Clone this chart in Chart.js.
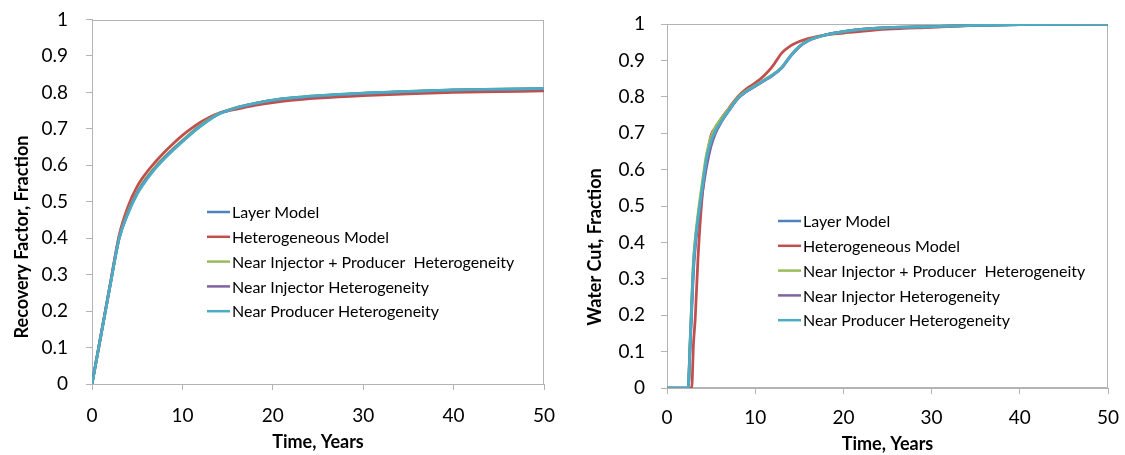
<!DOCTYPE html>
<html>
<head>
<meta charset="utf-8">
<script src="https://cdn.jsdelivr.net/npm/chart.js@4.4.1/dist/chart.umd.min.js"></script>
<style>
  html, body { margin: 0; padding: 0; background: #fff; }
  body { width: 1125px; height: 455px; position: relative; overflow: hidden; }
  .box { position: absolute; top: 0; width: 560px; height: 455px; }
</style>
</head>
<body>
<div class="box" style="left:0"><canvas id="rfChart" width="560" height="455"></canvas></div>
<div class="box" style="left:565px"><canvas id="wcChart" width="560" height="455"></canvas></div>
<script>
// Series names and colours
const seriesNames = [
  "Layer Model",
  "Heterogeneous Model",
  "Near Injector + Producer  Heterogeneity",
  "Near Injector Heterogeneity",
  "Near Producer Heterogeneity"
];
const seriesColors = ["#4F81BD", "#C0504D", "#9BBB59", "#8064A2", "#4BACC6"];

// Recovery factor (left chart)
const rfTimes = [0, 1, 2, 3, 4, 5, 6, 7, 8, 9, 10, 11, 12, 13, 14, 15, 16, 18, 20, 22, 25, 30, 35, 40, 45, 50];
const rfLayer = [0, 0.135, 0.27, 0.40, 0.472, 0.525, 0.563, 0.594, 0.621, 0.645, 0.667, 0.689, 0.709, 0.726, 0.741, 0.750, 0.758, 0.769, 0.778, 0.784, 0.790, 0.797, 0.802, 0.806, 0.808, 0.810];
const rfHetero = [0, 0.136, 0.272, 0.408, 0.488, 0.542, 0.579, 0.609, 0.636, 0.660, 0.682, 0.701, 0.718, 0.732, 0.743, 0.749, 0.754, 0.764, 0.772, 0.778, 0.784, 0.791, 0.796, 0.800, 0.802, 0.804];
const rfInjProd = [0, 0.135, 0.27, 0.40, 0.474, 0.527, 0.565, 0.596, 0.622, 0.646, 0.668, 0.690, 0.710, 0.727, 0.742, 0.751, 0.759, 0.770, 0.779, 0.785, 0.791, 0.798, 0.803, 0.807, 0.809, 0.811];
const rfInj = [0, 0.135, 0.27, 0.40, 0.471, 0.524, 0.562, 0.593, 0.620, 0.644, 0.666, 0.688, 0.708, 0.726, 0.741, 0.750, 0.758, 0.769, 0.778, 0.784, 0.790, 0.797, 0.802, 0.806, 0.808, 0.810];
const rfProd = [0, 0.134, 0.268, 0.398, 0.468, 0.521, 0.559, 0.591, 0.618, 0.642, 0.665, 0.687, 0.707, 0.725, 0.740, 0.750, 0.758, 0.770, 0.779, 0.785, 0.791, 0.798, 0.803, 0.807, 0.809, 0.811];

// Water cut (right chart)
const wcTimes = [0, 2.4, 2.6, 2.8, 3.0, 3.2, 3.5, 4, 4.5, 5, 5.5, 6, 7, 8, 9, 10, 11, 12, 13, 14, 15, 16, 18, 20, 22, 25, 30, 35, 40, 45, 50];
const wcLayer = [0, 0, 0.11, 0.23, 0.34, 0.40, 0.465, 0.553, 0.635, 0.68, 0.708, 0.728, 0.763, 0.795, 0.815, 0.83, 0.845, 0.86, 0.88, 0.912, 0.938, 0.954, 0.97, 0.979, 0.985, 0.99, 0.993, 0.996, 0.998, 0.999, 1.0];
const wcHetero = [0, 0, 0, 0, 0.12, 0.19, 0.35, 0.53, 0.63, 0.695, 0.715, 0.735, 0.768, 0.80, 0.822, 0.838, 0.858, 0.885, 0.92, 0.94, 0.952, 0.96, 0.97, 0.975, 0.98, 0.986, 0.991, 0.996, 0.999, 1.0, 1.0];
const wcInjProd = [0, 0, 0.12, 0.24, 0.35, 0.41, 0.475, 0.565, 0.645, 0.69, 0.718, 0.735, 0.766, 0.797, 0.816, 0.831, 0.846, 0.861, 0.881, 0.913, 0.939, 0.955, 0.97, 0.979, 0.985, 0.99, 0.993, 0.996, 0.998, 0.999, 1.0];
const wcInj = [0, 0, 0.10, 0.21, 0.32, 0.385, 0.45, 0.535, 0.61, 0.665, 0.70, 0.724, 0.761, 0.794, 0.814, 0.829, 0.844, 0.859, 0.879, 0.911, 0.937, 0.954, 0.97, 0.979, 0.985, 0.99, 0.993, 0.996, 0.998, 0.999, 1.0];
const wcProd = [0, 0, 0.11, 0.225, 0.335, 0.398, 0.462, 0.55, 0.632, 0.678, 0.707, 0.727, 0.762, 0.795, 0.815, 0.83, 0.845, 0.86, 0.88, 0.912, 0.938, 0.954, 0.97, 0.979, 0.985, 0.99, 0.993, 0.996, 0.998, 0.999, 1.0];

const FONT = "Lato, 'Open Sans', sans-serif";
const AXIS_GRAY = "#b3b3b3";

// plot frame + rotated y title under the lines, legend box on top
const extras = {
  id: "extras",
  beforeDatasetsDraw(chart, args, opts) {
    const { ctx, chartArea: a } = chart;
    ctx.save();
    ctx.strokeStyle = AXIS_GRAY;
    ctx.lineWidth = 1;
    ctx.strokeRect(Math.round(a.left) + 0.5, Math.round(a.top) + 0.5,
      Math.round(a.width) - 1, Math.round(a.height) - 1);
    ctx.translate(opts.yTitleX, opts.yTitleY);
    ctx.rotate(-Math.PI / 2);
    ctx.font = "bold 18px " + FONT;
    ctx.fillStyle = "#000";
    ctx.textAlign = "center";
    ctx.textBaseline = "middle";
    ctx.fillText(opts.yTitle, 0, 0);
    ctx.restore();
  },
  afterDatasetsDraw(chart, args, opts) {
    const { ctx, chartArea: a } = chart;
    ctx.save();
    ctx.font = "16px " + FONT;
    ctx.textBaseline = "middle";
    ctx.textAlign = "left";
    seriesNames.forEach((name, i) => {
      const x = a.left + opts.legendX;
      const y = a.top + opts.legendY + i * opts.legendRow;
      ctx.strokeStyle = seriesColors[i];
      ctx.lineWidth = 2.5;
      ctx.beginPath();
      ctx.moveTo(x, y);
      ctx.lineTo(x + 23, y);
      ctx.stroke();
      ctx.fillStyle = "#000";
      ctx.fillText(name, x + 25, y + 1);
    });
    ctx.restore();
  }
};

function toPoints(times, values) {
  return values.map((v, i) => ({ x: times[i], y: v }));
}

// tick label overflow should not push the plot area around
function noOverflow(s) {
  s.paddingLeft = 0;
  s.paddingRight = 0;
  s.paddingTop = 0;
  s.paddingBottom = 0;
}

function makeChart(id, times, valueSets, cfg) {
  const datasets = valueSets.map((vals, i) => ({
    label: seriesNames[i],
    data: toPoints(times, vals),
    borderColor: seriesColors[i],
    backgroundColor: seriesColors[i],
    borderWidth: 2.75,
    pointRadius: 0,
    cubicInterpolationMode: "monotone",
    order: valueSets.length - i // last series drawn on top
  }));

  return new Chart(document.getElementById(id), {
    type: "line",
    data: { datasets },
    plugins: [extras],
    options: {
      responsive: false,
      animation: false,
      events: [],
      layout: { padding: { left: 0, right: cfg.padRight, top: cfg.padTop, bottom: 0 } },
      plugins: {
        legend: { display: false },
        tooltip: { enabled: false },
        extras: {
          yTitle: cfg.yTitle, yTitleX: cfg.yTitleX, yTitleY: cfg.yTitleY,
          legendX: cfg.legendX, legendY: cfg.legendY, legendRow: 24.8
        }
      },
      scales: {
        x: {
          type: "linear",
          min: 0,
          max: 50,
          afterFit: (s) => { s.height = cfg.xHeight; noOverflow(s); },
          ticks: {
            stepSize: 10,
            color: "#000",
            padding: cfg.xTickPad,
            maxRotation: 0,
            font: { family: FONT, size: 19 }
          },
          grid: { drawOnChartArea: false, tickLength: 6, color: AXIS_GRAY },
          border: { color: AXIS_GRAY },
          title: {
            display: true,
            text: "Time, Years",
            color: "#000",
            padding: { top: 0, bottom: cfg.xTitlePad },
            font: { family: FONT, size: 18, weight: "bold" }
          }
        },
        y: {
          min: 0,
          max: 1,
          afterFit: (s) => { s.width = cfg.yWidth; noOverflow(s); },
          ticks: {
            stepSize: 0.1,
            color: "#000",
            padding: cfg.yTickPad,
            font: { family: FONT, size: 19 },
            callback: (v) => String(Math.round(v * 10) / 10)
          },
          grid: { drawOnChartArea: false, tickLength: 6, color: AXIS_GRAY },
          border: { color: AXIS_GRAY }
        }
      }
    }
  });
}

makeChart("rfChart", rfTimes, [rfLayer, rfHetero, rfInjProd, rfInj, rfProd], {
  yTitle: "Recovery Factor, Fraction", yTitleX: 22, yTitleY: 237,
  legendX: 115, legendY: 192.5,
  yWidth: 92, xHeight: 71, padRight: 16, padTop: 19.5,
  xTickPad: 14, yTickPad: 18, xTitlePad: 2
});

makeChart("wcChart", wcTimes, [wcLayer, wcHetero, wcInjProd, wcInj, wcProd], {
  yTitle: "Water Cut, Fraction", yTitleX: 30, yTitleY: 247,
  legendX: 111, legendY: 197,
  yWidth: 102, xHeight: 67, padRight: 17, padTop: 24,
  xTickPad: 12, yTickPad: 16, xTitlePad: 0
});
</script>
</body>
</html>
